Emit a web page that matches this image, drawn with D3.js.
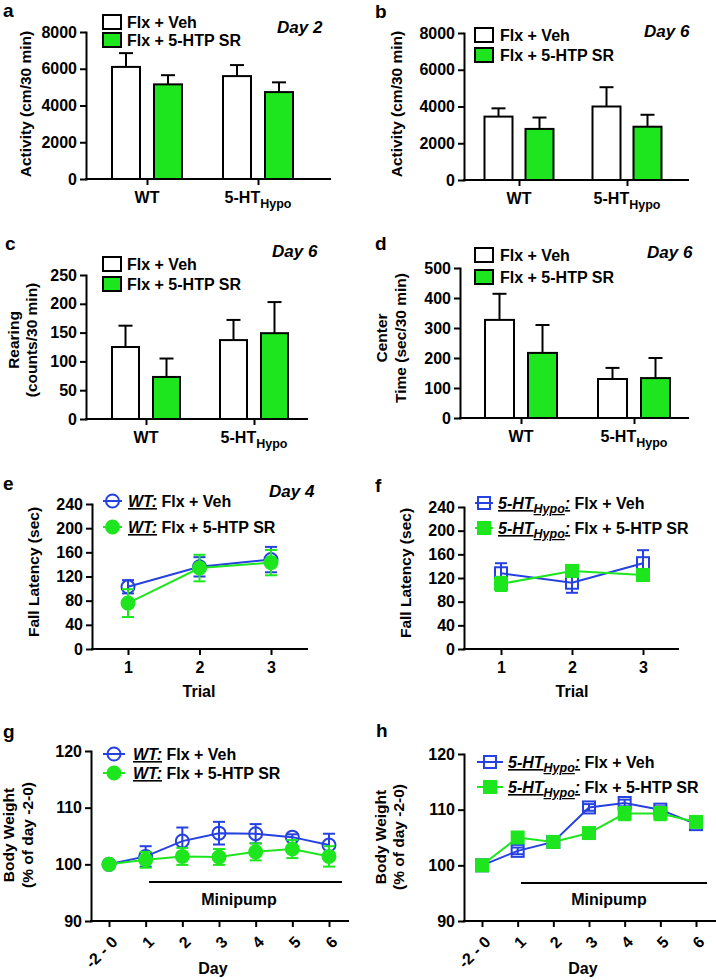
<!DOCTYPE html>
<html><head><meta charset="utf-8">
<script src="https://cdn.jsdelivr.net/npm/d3@7"></script>
<style>
body{margin:0;background:#fff}
svg{display:block}
text{font-family:"Liberation Sans",Arial,Helvetica,sans-serif;font-weight:bold;white-space:pre}
</style>
</head><body>
<svg id="chart" width="716" height="980"></svg>
<script>
// ---------------- DATA ----------------
const groups = ["WT", "5-HT"];
const groupSubs = ["", "Hypo"];
const treatments = ["Flx + Veh", "Flx + 5-HTP SR"];

// a: Activity, Day 2
const actDay2Veh = [6100, 5600];
const actDay2VehSem = [750, 600];
const actDay2Htp = [5150, 4730];
const actDay2HtpSem = [500, 530];
// b: Activity, Day 6
const actDay6Veh = [3450, 4000];
const actDay6VehSem = [450, 1050];
const actDay6Htp = [2780, 2900];
const actDay6HtpSem = [620, 650];
// c: Rearing, Day 6
const rearVeh = [125, 137];
const rearVehSem = [37, 35];
const rearHtp = [73, 149];
const rearHtpSem = [32, 54];
// d: Center time, Day 6
const centerVeh = [327, 130];
const centerVehSem = [87, 37];
const centerHtp = [217, 133];
const centerHtpSem = [93, 67];

// e/f: Rotarod fall latency, Day 4
const trials = ["1", "2", "3"];
const wtFallVeh = [103, 136, 148];
const wtFallVehSem = [11, 16, 21];
const wtFallHtp = [76, 134, 143];
const wtFallHtpSem = [23, 22, 21];
const hypoFallVeh = [128, 112, 145];
const hypoFallVehSem = [17, 17, 22];
const hypoFallHtp = [110, 132, 125];
const hypoFallHtpSem = [12, 7, 5];

// g/h: Body weight
const days = ["-2 - 0", "1", "2", "3", "4", "5", "6"];
const wtBwVeh = [100, 101.4, 104.1, 105.5, 105.4, 104.8, 103.4];
const wtBwVehSem = [0, 1.8, 2.4, 2.0, 1.7, 0.5, 2.0];
const wtBwHtp = [100, 100.8, 101.4, 101.3, 102.2, 102.7, 101.4];
const wtBwHtpSem = [0, 1.4, 1.5, 1.4, 1.5, 1.6, 1.8];
const hypoBwVeh = [100, 102.6, 104.2, 110.4, 111.2, 110.0, 107.4];
const hypoBwVehSem = [0, 0.6, 0.5, 0.6, 0.6, 0.6, 0.5];
const hypoBwHtp = [100, 105.0, 104.2, 105.8, 109.3, 109.3, 107.8];
const hypoBwHtpSem = [0, 0.5, 0.5, 0.6, 1.2, 1.2, 0.6];

const ticksActivity = [0, 2000, 4000, 6000, 8000];
const ticksRearing = [0, 50, 100, 150, 200, 250];
const ticksCenter = [0, 100, 200, 300, 400, 500];
const ticksFall = [0, 40, 80, 120, 160, 200, 240];
const ticksBw = [90, 100, 110, 120];

// ---------------- STYLE ----------------
const GREEN = "#1ee61e";
const BLUE = "#2541e0";
const FONT = '"Liberation Sans", Arial, Helvetica, sans-serif';
const FS = 16;

const svg = d3.select("#chart");

function styleAxis(a) {
  a.attr("font-size", FS).attr("font-family", FONT).attr("font-weight", "bold");
  a.select(".domain").attr("stroke", "#000").attr("stroke-width", 2).attr("stroke-linecap", "square");
  a.selectAll(".tick line").attr("stroke", "#000").attr("stroke-width", 2);
  a.selectAll(".tick text").attr("fill", "#000");
}

function commonFrame(g, c, y) {
  const ya = g.append("g").attr("transform", `translate(${c.x0},0)`)
    .call(d3.axisLeft(y).tickValues(c.ticks).tickFormat(d3.format("d"))
      .tickSize(6).tickPadding(3).tickSizeOuter(0));
  styleAxis(ya);
  g.append("line").attr("x1", c.x0).attr("x2", c.x1).attr("y1", c.yBase).attr("y2", c.yBase)
    .attr("stroke", "#000").attr("stroke-width", 2).attr("stroke-linecap", "square");
  g.append("text").attr("x", c.lx).attr("y", c.ly).attr("font-size", 19).text(c.letter);
  c.titles.forEach((t, i) => {
    g.append("text").attr("transform", `translate(${c.titleX[i]},${c.titleY}) rotate(-90)`)
      .attr("text-anchor", "middle").attr("font-size", 15.5).text(t);
  });
  if (c.day) {
    g.append("text").attr("x", c.dayX).attr("y", c.dayY).attr("font-size", 17)
      .attr("font-style", "italic").attr("font-weight", "normal").text(c.day);
  }
}

function barPanel(c) {
  const g = svg.append("g");
  const y = d3.scaleLinear().domain([0, c.max]).range([c.yBase, c.yTop]);
  const x = d3.scalePoint().domain(groups).range(c.centers);
  commonFrame(g, c, y);
  const xa = g.append("g").attr("transform", `translate(0,${c.yBase})`)
    .call(d3.axisBottom(x).tickSize(6).tickFormat(""));
  styleAxis(xa);
  xa.select(".domain").remove();
  groups.forEach((gr, i) => {
    const t = g.append("text").attr("x", x(gr)).attr("y", c.yBase + 24)
      .attr("text-anchor", "middle").attr("font-size", FS);
    t.append("tspan").text(gr);
    if (groupSubs[i]) t.append("tspan").attr("dy", 5).attr("font-size", 12.5).text(groupSubs[i]);
  });
  const series = [
    {vals: c.veh, sem: c.vehSem, fill: "#fff", off: -c.gap / 2 - c.barW},
    {vals: c.htp, sem: c.htpSem, fill: GREEN, off: c.gap / 2}
  ];
  series.forEach(s => {
    groups.forEach((gr, i) => {
      const bx = x(gr) + s.off, cx = bx + c.barW / 2;
      const top = y(s.vals[i]), et = y(s.vals[i] + s.sem[i]);
      g.append("line").attr("x1", cx).attr("x2", cx).attr("y1", top).attr("y2", et)
        .attr("stroke", "#000").attr("stroke-width", 2);
      g.append("line").attr("x1", cx - 7).attr("x2", cx + 7).attr("y1", et).attr("y2", et)
        .attr("stroke", "#000").attr("stroke-width", 2);
      g.append("rect").attr("x", bx).attr("y", top).attr("width", c.barW)
        .attr("height", c.yBase - top).attr("fill", s.fill)
        .attr("stroke", "#000").attr("stroke-width", 2);
    });
  });
  ["#fff", GREEN].forEach((f, i) => {
    g.append("rect").attr("x", c.legX).attr("y", c.legY[i]).attr("width", 18).attr("height", 14)
      .attr("fill", f).attr("stroke", "#000").attr("stroke-width", 2);
    g.append("text").attr("x", c.legTextX).attr("y", c.legY[i] + 13).attr("font-size", FS)
      .text(treatments[i]);
  });
}

function marker(g, shape, filled, color, cx, cy) {
  if (shape === "circle") {
    g.append("circle").attr("cx", cx).attr("cy", cy).attr("r", 6.5)
      .attr("fill", filled ? color : "none").attr("stroke", color).attr("stroke-width", 2);
  } else {
    g.append("rect").attr("x", cx - 6).attr("y", cy - 6).attr("width", 12).attr("height", 12)
      .attr("fill", filled ? color : "none").attr("stroke", color).attr("stroke-width", 2);
  }
}

function linePanel(c) {
  const g = svg.append("g");
  const y = d3.scaleLinear().domain([c.min, c.max]).range([c.yBase, c.yTop]);
  const x = d3.scalePoint().domain(c.cats).range(c.range);
  commonFrame(g, c, y);
  const xa = g.append("g").attr("transform", `translate(0,${c.yBase})`)
    .call(d3.axisBottom(x).tickSize(6).tickPadding(3));
  styleAxis(xa);
  xa.select(".domain").remove();
  if (c.rotate) {
    xa.selectAll(".tick text").attr("x", 0).attr("y", 0).attr("dy", "0.35em")
      .attr("text-anchor", "end").attr("transform", "translate(5,18) rotate(-45)");
  } else {
    xa.selectAll(".tick text").attr("y", 24).attr("dy", 0);
  }
  g.append("text").attr("x", c.xTitleX).attr("y", c.xTitleY).attr("text-anchor", "middle")
    .attr("font-size", FS).text(c.xTitle);
  if (c.mp) {
    g.append("line").attr("x1", c.mp[0]).attr("x2", c.mp[1]).attr("y1", c.mp[2]).attr("y2", c.mp[2])
      .attr("stroke", "#000").attr("stroke-width", 2);
    g.append("text").attr("x", c.mpTextX).attr("y", c.mpTextY).attr("text-anchor", "middle")
      .attr("font-size", FS).text("Minipump");
  }
  const series = [
    {vals: c.veh, sem: c.vehSem, color: BLUE, filled: false},
    {vals: c.htp, sem: c.htpSem, color: GREEN, filled: true}
  ];
  const line = d3.line().x((d, i) => x(c.cats[i])).y(d => y(d));
  series.forEach(s => {
    g.append("path").datum(s.vals).attr("d", line).attr("fill", "none")
      .attr("stroke", s.color).attr("stroke-width", 2);
    s.vals.forEach((v, i) => {
      const cx = x(c.cats[i]);
      if (s.sem[i] > 0) {
        const y1 = y(v - s.sem[i]), y2 = y(v + s.sem[i]);
        g.append("line").attr("x1", cx).attr("x2", cx).attr("y1", y1).attr("y2", y2)
          .attr("stroke", s.color).attr("stroke-width", 2);
        [y1, y2].forEach(yy => g.append("line").attr("x1", cx - 6).attr("x2", cx + 6)
          .attr("y1", yy).attr("y2", yy).attr("stroke", s.color).attr("stroke-width", 2));
      }
      marker(g, c.shape, s.filled, s.color, cx, y(v));
    });
  });
  series.forEach((s, i) => {
    const ly = c.legY[i];
    g.append("line").attr("x1", c.markerX[0]).attr("x2", c.markerX[1]).attr("y1", ly).attr("y2", ly)
      .attr("stroke", s.color).attr("stroke-width", 2);
    marker(g, c.shape, s.filled, s.color, (c.markerX[0] + c.markerX[1]) / 2, ly);
    const t = g.append("text").attr("x", c.legTextX).attr("y", ly + 6).attr("font-size", FS);
    const it = (txt) => t.append("tspan").attr("font-style", "italic")
      .attr("text-decoration", "underline").text(txt);
    if (c.prefixSub) {
      it(c.prefix);
      it(c.prefixSub).attr("dy", 4).attr("font-size", 12.5);
      it(":").attr("dy", -4);
    } else {
      it(c.prefix + ":");
    }
    t.append("tspan").text(" " + treatments[i]);
  });
}

// ---------------- PANELS ----------------
barPanel({letter: "a", lx: 3, ly: 17, x0: 86, x1: 330, yTop: 32, yBase: 179, max: 8000,
  ticks: ticksActivity, centers: [147, 258], barW: 28, gap: 14,
  veh: actDay2Veh, vehSem: actDay2VehSem, htp: actDay2Htp, htpSem: actDay2HtpSem,
  titles: ["Activity (cm/30 min)"], titleX: [31], titleY: 104,
  legX: 103, legY: [15, 33], legTextX: 127, day: "Day 2", dayX: 277, dayY: 33});

barPanel({letter: "b", lx: 375, ly: 18, x0: 464, x1: 688, yTop: 33, yBase: 180, max: 8000,
  ticks: ticksActivity, centers: [519, 627], barW: 28, gap: 13,
  veh: actDay6Veh, vehSem: actDay6VehSem, htp: actDay6Htp, htpSem: actDay6HtpSem,
  titles: ["Activity (cm/30 min)"], titleX: [402], titleY: 104,
  legX: 475, legY: [28, 48], legTextX: 500, day: "Day 6", dayX: 644, dayY: 37});

barPanel({letter: "c", lx: 5, ly: 250, x0: 86, x1: 307, yTop: 275, yBase: 419, max: 250,
  ticks: ticksRearing, centers: [146, 254], barW: 27, gap: 14,
  veh: rearVeh, vehSem: rearVehSem, htp: rearHtp, htpSem: rearHtpSem,
  titles: ["Rearing", "(counts/30 min)"], titleX: [19, 37], titleY: 340,
  legX: 103, legY: [257, 277], legTextX: 127, day: "Day 6", dayX: 272, dayY: 257});

barPanel({letter: "d", lx: 375, ly: 250, x0: 460, x1: 688, yTop: 268, yBase: 418, max: 500,
  ticks: ticksCenter, centers: [521, 634], barW: 29, gap: 14,
  veh: centerVeh, vehSem: centerVehSem, htp: centerHtp, htpSem: centerHtpSem,
  titles: ["Center", "Time (sec/30 min)"], titleX: [387, 406], titleY: 338,
  legX: 475, legY: [248, 270], legTextX: 500, day: "Day 6", dayX: 647, dayY: 258});

linePanel({letter: "e", lx: 3, ly: 490, x0: 92, x1: 307, yTop: 504, yBase: 649, min: 0, max: 240,
  ticks: ticksFall, cats: trials, range: [128, 271], shape: "circle",
  veh: wtFallVeh, vehSem: wtFallVehSem, htp: wtFallHtp, htpSem: wtFallHtpSem,
  titles: ["Fall Latency (sec)"], titleX: [39], titleY: 572,
  xTitle: "Trial", xTitleX: 199, xTitleY: 697,
  markerX: [103, 122], legY: [501, 527], legTextX: 128, prefix: "WT",
  day: "Day 4", dayX: 269, dayY: 497});

linePanel({letter: "f", lx: 375, ly: 492, x0: 464, x1: 678, yTop: 507, yBase: 649, min: 0, max: 240,
  ticks: ticksFall, cats: trials, range: [501, 643], shape: "square",
  veh: hypoFallVeh, vehSem: hypoFallVehSem, htp: hypoFallHtp, htpSem: hypoFallHtpSem,
  titles: ["Fall Latency (sec)"], titleX: [411], titleY: 573,
  xTitle: "Trial", xTitleX: 572, xTitleY: 697,
  markerX: [475, 493], legY: [503, 528], legTextX: 498, prefix: "5-HT", prefixSub: "Hypo"});

linePanel({letter: "g", lx: 3, ly: 738, x0: 91, x1: 348, yTop: 751, yBase: 921, min: 90, max: 120,
  ticks: ticksBw, cats: days, range: [109, 329], shape: "circle", rotate: true,
  veh: wtBwVeh, vehSem: wtBwVehSem, htp: wtBwHtp, htpSem: wtBwHtpSem,
  titles: ["Body Weight", "(% of day -2-0)"], titleX: [14, 33], titleY: 835,
  xTitle: "Day", xTitleX: 213, xTitleY: 974,
  mp: [149, 342, 882], mpTextX: 239, mpTextY: 905,
  markerX: [103, 125], legY: [754, 773], legTextX: 133, prefix: "WT"});

linePanel({letter: "h", lx: 376, ly: 737, x0: 464, x1: 715, yTop: 754, yBase: 921, min: 90, max: 120,
  ticks: ticksBw, cats: days, range: [482, 696], shape: "square", rotate: true,
  veh: hypoBwVeh, vehSem: hypoBwVehSem, htp: hypoBwHtp, htpSem: hypoBwHtpSem,
  titles: ["Body Weight", "(% of day -2-0)"], titleX: [386, 404], titleY: 837,
  xTitle: "Day", xTitleX: 583, xTitleY: 974,
  mp: [521, 707, 883], mpTextX: 609, mpTextY: 905,
  markerX: [477, 503], legY: [762, 787], legTextX: 508, prefix: "5-HT", prefixSub: "Hypo"});
</script>
</body></html>
